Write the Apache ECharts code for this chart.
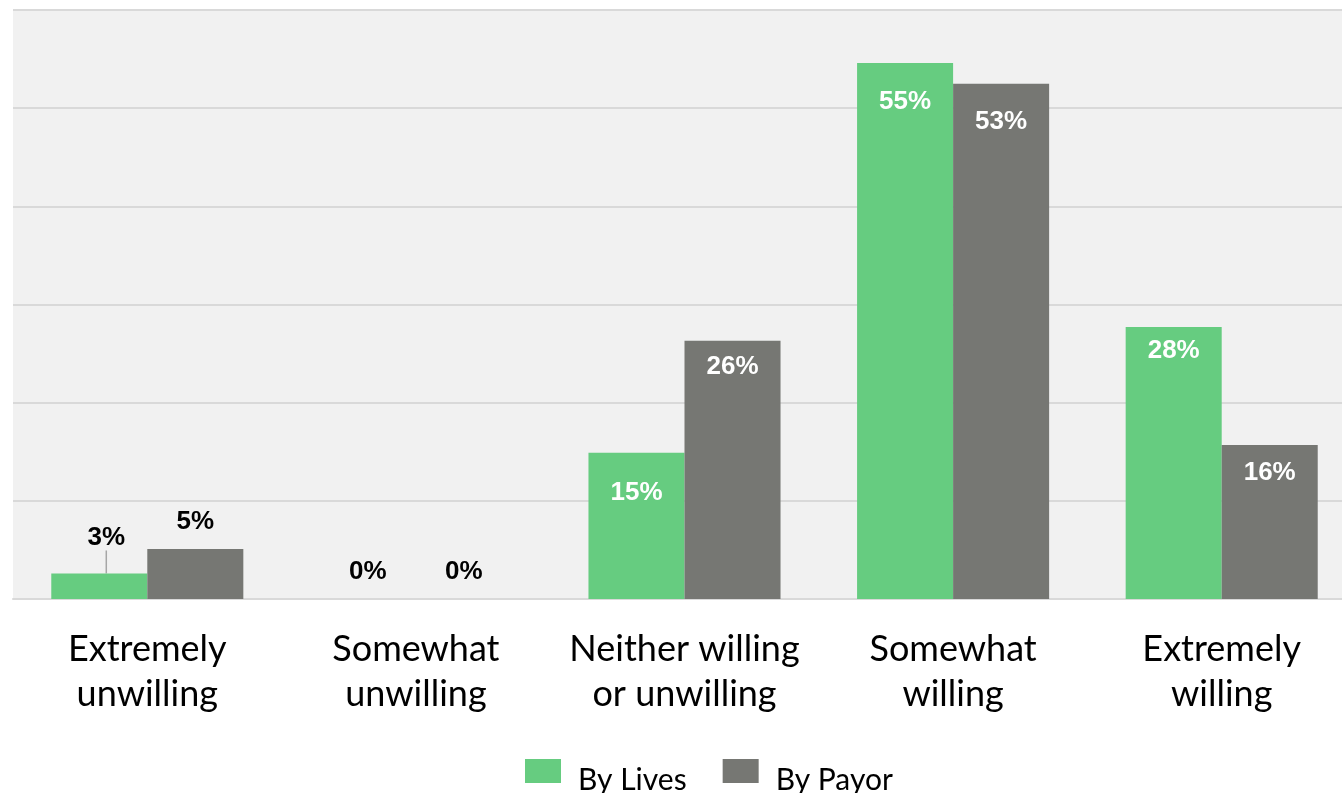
<!DOCTYPE html>
<html>
<head>
<meta charset="utf-8">
<script src="https://cdn.jsdelivr.net/npm/echarts@6/dist/echarts.min.js"></script>
<style>
html,body{margin:0;padding:0;background:#ffffff;overflow:hidden;}
#chart{width:1356px;height:793px;}
</style>
</head>
<body>
<div id="chart"></div>
<script>
const categories = ['Extremely\nunwilling', 'Somewhat\nunwilling', 'Neither willing\nor unwilling', 'Somewhat\nwilling', 'Extremely\nwilling'];
const byLives = [2.6, 0, 14.9, 54.6, 27.7];
const byPayor = [5.1, 0, 26.3, 52.5, 15.7];
const yTicks = [0, 10, 20, 30, 40, 50, 60];

const GREEN = '#66cc80';
const GRAY = '#767773';

// label inset (px) from bar top for large bars, per series, as in the original layout
const livesInset = [0, 0, 27, 26, 11];
const payorInset = [0, 0, 13, 25, 15];

function buildData(values, insets, leader) {
  return values.map(function (v, i) {
    const big = v >= 10;
    return {
      value: v,
      label: big ? {
        position: 'insideTop', distance: insets[i], color: '#ffffff'
      } : {
        position: 'top', distance: 14, color: '#000000'
      },
      labelLine: {show: leader && i === 0}
    };
  });
}

const chart = echarts.init(document.getElementById('chart'), null, {renderer: 'canvas'});
const labelBase = {
  show: true,
  fontFamily: 'Liberation Sans, Arial, sans-serif',
  fontWeight: 'bold',
  fontSize: 26,
  formatter: function (p) { return Math.round(p.value) + '%'; }
};
chart.setOption({
  animation: false,
  backgroundColor: '#ffffff',
  grid: {left: 13, right: 0, top: 10, bottom: 194, show: true, backgroundColor: '#f1f1f1', borderWidth: 0},
  xAxis: {
    type: 'category',
    data: categories,
    axisLine: {show: true, lineStyle: {color: '#d9d9d9', width: 2}},
    axisTick: {show: false},
    axisLabel: {
      color: '#000000', fontSize: 36, fontFamily: 'Lato, Open Sans, sans-serif',
      lineHeight: 45, margin: 28, interval: 0
    }
  },
  yAxis: {
    type: 'value',
    min: yTicks[0], max: yTicks[yTicks.length - 1], interval: 10,
    axisLabel: {show: false},
    axisLine: {show: false},
    axisTick: {show: false},
    splitLine: {show: true, lineStyle: {color: '#d9d9d9', width: 2}}
  },
  legend: {
    left: 525, top: 759, padding: 0,
    itemWidth: 36, itemHeight: 24, itemGap: 36,
    icon: 'rect',
    formatter: function (name) { return '{t|' + name + '}'; },
    textStyle: {
      color: '#000000',
      rich: {t: {fontSize: 30, color: '#000000', fontFamily: 'Lato, Open Sans, sans-serif', padding: [18, 0, 0, 12]}}
    },
    data: ['By Lives', 'By Payor']
  },
  series: [
    {
      name: 'By Lives', type: 'bar', data: buildData(byLives, livesInset, true),
      itemStyle: {color: GREEN}, barGap: '0%', barCategoryGap: '28.5%',
      label: labelBase,
      labelLine: {show: false, lineStyle: {color: '#a6a6a6', width: 1.5}},
      labelLayout: function (p) {
        if (p.dataIndex === 0) { return {dx: 7, dy: -9}; }
        return {};
      }
    },
    {
      name: 'By Payor', type: 'bar', data: buildData(byPayor, payorInset, false),
      itemStyle: {color: GRAY}, barGap: '0%', barCategoryGap: '28.5%',
      label: labelBase
    }
  ]
});
</script>
</body>
</html>
